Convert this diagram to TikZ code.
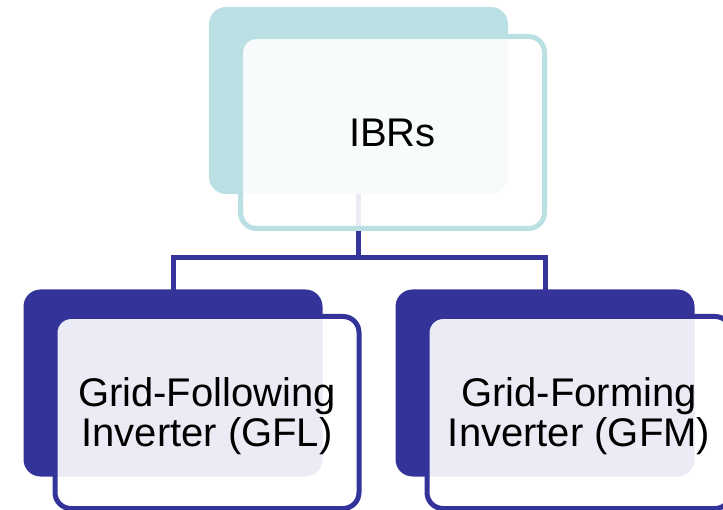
\documentclass[tikz,border=0pt]{standalone}
\usepackage{fontspec}
\setmainfont{Liberation Sans}
\usetikzlibrary{backgrounds}
\definecolor{ibrteal}{HTML}{BBE0E3}
\definecolor{invblue}{HTML}{333399}
\tikzset{
	backbox/.style={rounded corners=17pt,inner sep=0pt,minimum width=299pt,minimum height=187pt},
	frontbox/.style={rounded corners=16pt,inner sep=0pt,minimum width=304pt,minimum height=192pt,line width=5pt,fill=white,fill opacity=0.9,text opacity=1,align=center,font=\fontsize{40}{40}\selectfont},
	link/.style={invblue,line width=5pt}
}
\begin{document}
\begin{tikzpicture}[x=1pt,y=-1pt]
	\useasboundingbox (0,0) rectangle (723,510);
	\clip (0,0) rectangle (723,510);
	\node (ibrsback) at (358.5,100.5)[backbox,fill=ibrteal] {};
	\node (gflback) at (173,383)[backbox,fill=invblue] {};
	\node (gfmback) at (545,383)[backbox,fill=invblue] {};
	\node (ibrs) at (392.5,132.5)[frontbox,draw=ibrteal] {IBRs};
	\node (gfl) at (207,412.5)[frontbox,draw=invblue,text depth=0pt] {Grid-Following\\Inverter (GFL)};
	\node (gfm) at (579,412.5)[frontbox,draw=invblue,text depth=0pt] {Grid-Forming\\Inverter (GFM)};
	\coordinate (split) at (358.5,258);
	\begin{scope}[on background layer]
	\draw[link] (ibrsback.center)--(split);
	\draw[link] (split)-|(gflback.center);
	\draw[link] (split)-|(gfmback.center);
	\end{scope}
\end{tikzpicture}
\end{document}
